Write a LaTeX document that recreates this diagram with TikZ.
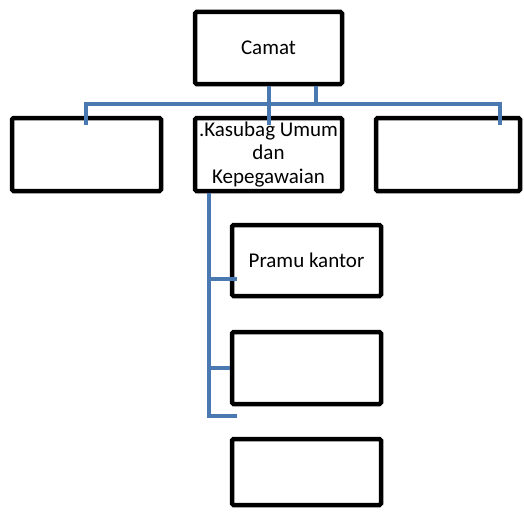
\documentclass[tikz,border=0pt]{standalone}
\usepackage{fontspec}
\setmainfont{Carlito}
\definecolor{conblue}{HTML}{4A78B0}
\begin{document}
\begin{tikzpicture}[x=1pt,y=-1pt,
  box/.style={draw=black,line width=4.5pt,rounded corners=1.5pt,fill=white,inner sep=0pt,align=center,
    font=\fontsize{21}{23.5}\selectfont},
  conn/.style={draw=conblue,line width=4pt,line cap=butt,line join=miter}]
\useasboundingbox (0,0) rectangle (524,511);
\node[box,minimum width=147pt,minimum height=72pt] (camat) at (268.5,48) {Camat};
\node[box,minimum width=149pt,minimum height=73pt] (left) at (86.5,154.5) {};
\node[box,minimum width=147pt,minimum height=73pt] (mid) at (268.5,154.5) {.Kasubag Umum\\dan\\Kepegawaian};
\node[box,minimum width=144pt,minimum height=73pt] (right) at (448,154.5) {};
\node[box,minimum width=149pt,minimum height=71pt] (pramu) at (306.5,260.5) {Pramu kantor};
\node[box,minimum width=149pt,minimum height=72pt] (b2) at (306.5,368) {};
\node[box,minimum width=149pt,minimum height=66pt] (b3) at (306.5,472) {};
\coordinate (ldrop) at (86,125);
\coordinate (rdrop) at (500,125);
\coordinate (mdrop) at (269,125);
\coordinate (cup) at (316,86);
\coordinate (vtop) at (209,193);
\coordinate (vend) at (237,416);
\coordinate (pend) at (237,279);
% top bus
\draw[conn] (ldrop) -- (ldrop |- 0,104) -- (rdrop |- 0,104) -- (rdrop);
\draw[conn] (camat.south -| mdrop) -- (mdrop);
\draw[conn] (cup) -- (cup |- 0,104);
% left spine
\draw[conn] (vtop) -- (vtop |- vend) -- (vend);
\draw[conn] (vtop |- pend) -- (pend);
\draw[conn] (vtop |- b2.west) -- (b2.west);
\end{tikzpicture}
\end{document}
